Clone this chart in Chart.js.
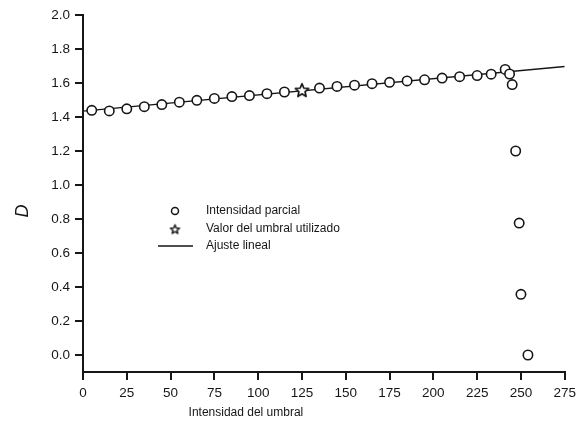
<!DOCTYPE html>
<html>
<head>
<meta charset="utf-8">
<script src="https://cdn.jsdelivr.net/npm/chart.js@4.4.1/dist/chart.umd.min.js"></script>
<style>
  html, body { margin: 0; padding: 0; background: #ffffff; }
  #wrap { width: 581px; height: 431px; }
</style>
</head>
<body>
<div id="wrap"><canvas id="c" width="581" height="431"></canvas></div>
<script>
// Partial intensity D for each threshold intensity
const partialX = [5, 15, 25, 35, 45, 55, 65, 75, 85, 95, 105, 115,
                  135, 145, 155, 165, 175, 185, 195, 205, 215, 225,
                  233, 241, 243.5, 245, 247, 249, 250, 254];
const partialY = [1.439, 1.436, 1.448, 1.461, 1.473, 1.487, 1.498, 1.509, 1.520, 1.526, 1.537, 1.547,
                  1.570, 1.580, 1.587, 1.596, 1.604, 1.612, 1.619, 1.629, 1.637, 1.644,
                  1.652, 1.680, 1.653, 1.591, 1.200, 0.776, 0.357, 0.000];

// Threshold value that was used
const chosenX = [125];
const chosenY = [1.558];

// Linear fit end points
const fitX = [0, 275];
const fitY = [1.435, 1.697];

// Axis ticks
const xTicks = [0, 25, 50, 75, 100, 125, 150, 175, 200, 225, 250, 275];
const yTicks = [0.0, 0.2, 0.4, 0.6, 0.8, 1.0, 1.2, 1.4, 1.6, 1.8, 2.0];

const labels = ['Intensidad parcial', 'Valor del umbral utilizado', 'Ajuste lineal'];
const xTitle = 'Intensidad del umbral';
const yTitle = 'D';

const INK = '#161616';
const FONT = '"Liberation Sans", Arial, Helvetica, sans-serif';

function toPoints(xs, ys) { return xs.map((x, i) => ({ x: x, y: ys[i] })); }

// Five-pointed outlined star used as a point style
function makeStar(outer, inner, lw) {
  const size = Math.ceil(outer * 2 + lw * 2 + 2);
  const cv = document.createElement('canvas');
  cv.width = size; cv.height = size;
  const g = cv.getContext('2d');
  const c = size / 2;
  g.beginPath();
  for (let i = 0; i < 10; i++) {
    const r = i % 2 === 0 ? outer : inner;
    const a = -Math.PI / 2 + i * Math.PI / 5;
    const px = c + r * Math.cos(a), py = c + r * Math.sin(a) + 0.6;
    if (i === 0) g.moveTo(px, py); else g.lineTo(px, py);
  }
  g.closePath();
  g.fillStyle = '#ffffff';
  g.fill();
  g.lineWidth = lw;
  g.lineJoin = 'round';
  g.strokeStyle = INK;
  g.stroke();
  return cv;
}
const starBig = makeStar(7.0, 3.2, 1.7);
const starSmall = makeStar(4.8, 2.1, 1.4);

// Legend, axis titles drawn at fixed spots inside the canvas
const annotate = {
  id: 'annotate',
  afterDatasetsDraw(chart) {
    const ctx = chart.ctx;
    const xs = chart.scales.x;
    const ds = chart.data.datasets;
    ctx.save();
    ctx.fillStyle = INK;
    ctx.strokeStyle = INK;

    // legend
    const mx = 175, tx = 206;
    const rows = [211, 229, 246];
    ctx.lineWidth = 1.5;
    ctx.beginPath();
    ctx.arc(mx, rows[0], 3.5, 0, Math.PI * 2);
    ctx.fillStyle = '#ffffff';
    ctx.fill();
    ctx.stroke();
    ctx.drawImage(starSmall, mx - starSmall.width / 2, rows[1] - starSmall.height / 2);
    ctx.lineWidth = 1.3;
    ctx.beginPath();
    ctx.moveTo(158, rows[2]);
    ctx.lineTo(193, rows[2]);
    ctx.stroke();

    ctx.fillStyle = INK;
    ctx.font = '12px ' + FONT;
    ctx.textAlign = 'left';
    ctx.textBaseline = 'middle';
    for (let i = 0; i < 3; i++) ctx.fillText(ds[i].label, tx, rows[i]);

    // x axis title
    ctx.textAlign = 'center';
    ctx.fillText(xTitle, xs.getPixelForValue(93), 413);

    // y axis title
    ctx.translate(23, 211);
    ctx.rotate(-Math.PI / 2);
    ctx.font = 'italic 18px ' + FONT;
    ctx.fillText(yTitle, 0, 0);
    ctx.restore();
  }
};

new Chart(document.getElementById('c'), {
  type: 'scatter',
  data: {
    datasets: [
      {
        label: labels[0],
        data: toPoints(partialX, partialY),
        pointStyle: 'circle',
        pointRadius: 4.7,
        pointBorderWidth: 1.6,
        pointBackgroundColor: '#ffffff',
        pointBorderColor: INK,
        showLine: false
      },
      {
        label: labels[1],
        data: toPoints(chosenX, chosenY),
        pointStyle: starBig,
        pointRadius: 7,
        showLine: false
      },
      {
        label: labels[2],
        data: toPoints(fitX, fitY),
        showLine: true,
        pointRadius: 0,
        borderColor: INK,
        borderWidth: 1.3,
        fill: false
      }
    ]
  },
  options: {
    responsive: false,
    devicePixelRatio: 1,
    animation: false,
    layout: { padding: { top: 15, right: 14, left: 0, bottom: 0 } },
    plugins: {
      legend: { display: false },
      tooltip: { enabled: false },
      title: { display: false }
    },
    scales: {
      x: {
        type: 'linear',
        min: 0,
        max: 275,
        afterBuildTicks: s => { s.ticks = xTicks.map(v => ({ value: v })); },
        afterFit: s => { s.height = 59; },
        border: { display: true, color: INK, width: 2 },
        grid: { drawOnChartArea: false, drawTicks: true, tickLength: 8, color: INK, lineWidth: 2 },
        ticks: {
          color: INK,
          font: { family: FONT, size: 13.5 },
          padding: 5,
          maxRotation: 0,
          autoSkip: false,
          callback: v => String(v)
        },
        title: { display: false }
      },
      y: {
        type: 'linear',
        min: -0.1,
        max: 2.0,
        afterBuildTicks: s => { s.ticks = yTicks.map(v => ({ value: v })); },
        afterFit: s => { s.width = 83; },
        border: { display: true, color: INK, width: 2 },
        grid: { drawOnChartArea: false, drawTicks: true, tickLength: 8, color: INK, lineWidth: 2 },
        ticks: {
          color: INK,
          font: { family: FONT, size: 13.5 },
          padding: 5,
          autoSkip: false,
          callback: v => Number(v).toFixed(1)
        },
        title: { display: false }
      }
    }
  },
  plugins: [annotate]
});
</script>
</body>
</html>
